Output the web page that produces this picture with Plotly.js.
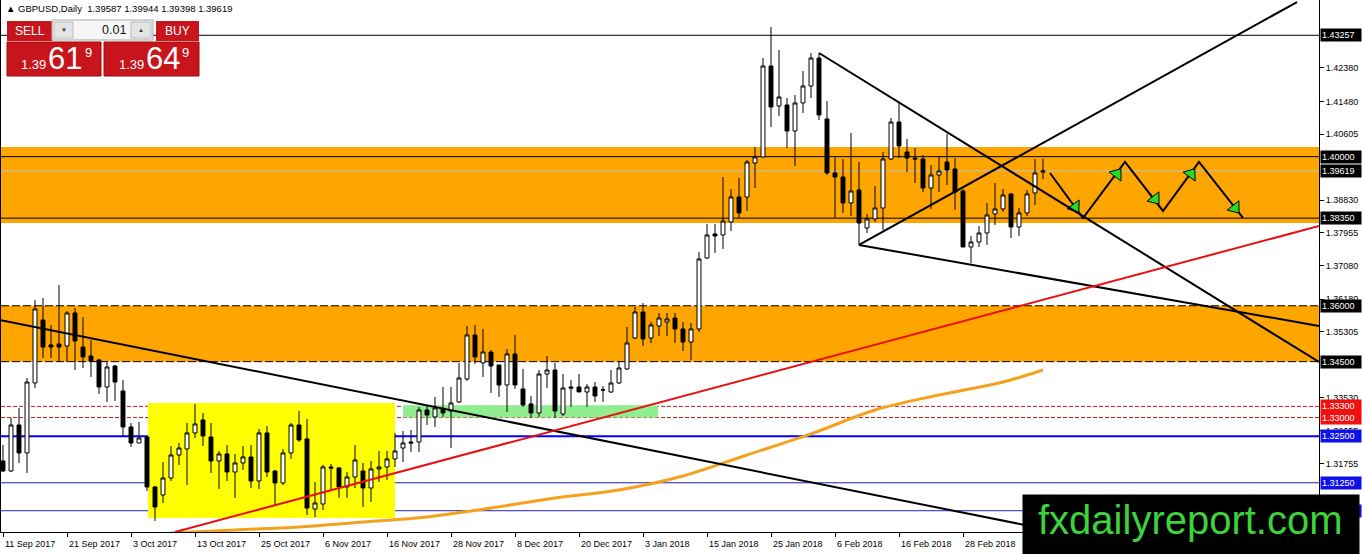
<!DOCTYPE html>
<html><head><meta charset="utf-8">
<script src="https://cdn.plot.ly/plotly-3.0.1.min.js"></script>
<style>html,body{margin:0;padding:0;background:#fff;overflow:hidden}#chart{width:1362px;height:554px}</style>
</head><body><div id="chart"></div>
<script>
// ---- data ----
const symbolName = 'GBPUSD,Daily';
const tickIndex = [0,8,16,24,32,40,48,56,64,72,80,88,96,104,112,120];
const tickLabels = ['11 Sep 2017','21 Sep 2017','3 Oct 2017','13 Oct 2017','25 Oct 2017','6 Nov 2017','16 Nov 2017','28 Nov 2017','8 Dec 2017','20 Dec 2017','3 Jan 2018','15 Jan 2018','25 Jan 2018','6 Feb 2018','16 Feb 2018','28 Feb 2018'];
const priceTicks = [1.4238,1.4148,1.40605,1.3883,1.37955,1.3708,1.3618,1.35305,1.3353,1.32655,1.31755];

const open = [1.31835,1.31566,1.32801,1.32050,1.33928,1.35618,1.34947,1.34974,1.34920,1.35806,
1.34893,1.34652,1.34545,1.33820,1.34384,1.33713,1.32747,1.32318,1.32479,1.31137,
1.30923,1.31378,1.31996,1.32157,1.32587,1.32935,1.32479,1.31835,1.32023,1.31539,
1.31782,1.31942,1.31298,1.32587,1.31566,1.31245,1.32050,1.32801,1.32426,1.30547,
1.30681,1.31674,1.31647,1.31137,1.31405,1.31566,1.31110,1.31621,1.31674,1.31889,
1.32183,1.32344,1.32344,1.33203,1.33015,1.33231,1.33176,1.33418,1.34035,1.35216,
1.34465,1.34759,1.34411,1.33874,1.34706,1.33767,1.33365,1.33123,1.34169,1.34276,
1.33096,1.33820,1.33820,1.33686,1.33820,1.33740,1.33686,1.33928,1.34304,1.35135,
1.35832,1.35135,1.35457,1.35564,1.35671,1.35377,1.35027,1.35377,1.37281,1.37926,
1.37899,1.38247,1.38918,1.38918,1.39831,1.39991,1.42433,1.41360,1.41387,1.40689,
1.41441,1.41897,1.42647,1.41012,1.39563,1.39455,1.38758,1.39106,1.38086,1.38329,
1.38623,1.39938,1.40930,1.40125,1.39964,1.39938,1.39159,1.39509,1.39857,1.39670,
1.39079,1.37577,1.37711,1.37953,1.38463,1.38597,1.38999,1.38113,1.38490,1.39026,
1.39587];
const high = [1.32264,1.32988,1.33257,1.34061,1.36155,1.36208,1.35484,1.36557,1.35859,1.35940,
1.35698,1.35081,1.34572,1.34518,1.34411,1.34008,1.32855,1.32881,1.32479,1.31164,
1.31808,1.32237,1.32318,1.32855,1.33365,1.33123,1.32855,1.32103,1.32264,1.32023,
1.32237,1.32264,1.32694,1.32774,1.31593,1.32157,1.32855,1.33176,1.32962,1.31271,
1.31728,1.31755,1.31674,1.31539,1.32264,1.31782,1.31835,1.32103,1.32103,1.32587,
1.32640,1.32667,1.33284,1.33311,1.33552,1.33820,1.33820,1.34465,1.35457,1.35484,
1.35377,1.34813,1.34411,1.34840,1.35216,1.34304,1.33579,1.34276,1.34652,1.34465,
1.34169,1.34008,1.34169,1.33901,1.33954,1.33847,1.34276,1.34518,1.35430,1.35967,
1.36075,1.35564,1.35806,1.35806,1.35806,1.35564,1.35538,1.37442,1.38194,1.38194,
1.39455,1.39133,1.39428,1.39911,1.40260,1.42647,1.43479,1.42862,1.41574,1.41655,
1.42299,1.42782,1.42782,1.41494,1.39991,1.39938,1.40636,1.39857,1.38463,1.39213,
1.40125,1.41038,1.41441,1.40475,1.40233,1.40045,1.39777,1.40018,1.40609,1.39964,
1.39133,1.37872,1.38140,1.38758,1.39294,1.39133,1.39026,1.38623,1.39106,1.39938,
1.39944];
const low = [1.31539,1.31539,1.31782,1.31513,1.33793,1.34598,1.34598,1.34491,1.34491,1.34276,
1.34330,1.34088,1.33633,1.33418,1.33445,1.32506,1.32210,1.32318,1.31030,1.30225,
1.30708,1.31298,1.31728,1.31191,1.32452,1.32237,1.31513,1.31084,1.31298,1.30842,
1.31593,1.31110,1.31084,1.31405,1.30654,1.31191,1.31889,1.32344,1.30386,1.30332,
1.30520,1.31057,1.30842,1.30842,1.31110,1.30600,1.30734,1.31271,1.31325,1.31674,
1.31808,1.32076,1.32076,1.32801,1.32747,1.33015,1.32183,1.33392,1.33981,1.34438,
1.34088,1.33660,1.33552,1.33149,1.33767,1.33284,1.32988,1.33015,1.33793,1.32988,
1.33042,1.33284,1.33686,1.33284,1.33418,1.33418,1.33660,1.33901,1.34276,1.35109,
1.34920,1.35001,1.35189,1.35189,1.35001,1.34786,1.34545,1.35296,1.37255,1.37416,
1.37524,1.38006,1.38355,1.38543,1.39159,1.39991,1.40796,1.41092,1.40233,1.39750,
1.41173,1.41574,1.40984,1.39509,1.38355,1.38490,1.38409,1.37631,1.37953,1.38247,
1.38033,1.39911,1.39964,1.39589,1.39294,1.39052,1.38597,1.39052,1.39240,1.38570,
1.37577,1.37148,1.37577,1.37631,1.38167,1.38516,1.37818,1.37872,1.38409,1.38704,
1.39398];
const close = [1.31566,1.32801,1.32050,1.33954,1.35914,1.34893,1.34893,1.34893,1.35806,1.35054,
1.34625,1.34518,1.33820,1.34357,1.33954,1.32747,1.32318,1.32452,1.31137,1.30600,
1.31378,1.31996,1.32183,1.32587,1.32828,1.32506,1.31835,1.32023,1.31539,1.31782,
1.31942,1.31298,1.32587,1.31539,1.31245,1.32050,1.32801,1.32398,1.30573,1.30708,
1.31674,1.31647,1.31137,1.31405,1.31862,1.31110,1.31621,1.31674,1.31889,1.32103,
1.32318,1.32318,1.33203,1.33069,1.33257,1.33123,1.33392,1.34061,1.35216,1.34625,
1.34759,1.34384,1.33874,1.34706,1.33874,1.33338,1.33123,1.34169,1.34276,1.33176,
1.33793,1.33793,1.33686,1.33820,1.33579,1.33745,1.33928,1.34330,1.35001,1.35832,
1.35109,1.35484,1.35671,1.35645,1.35377,1.35027,1.35377,1.37255,1.37899,1.37872,
1.38274,1.38918,1.38490,1.39857,1.39991,1.42433,1.41333,1.41601,1.40689,1.41441,
1.41897,1.42647,1.41119,1.39563,1.39455,1.38758,1.39079,1.38221,1.38329,1.38623,
1.39938,1.40930,1.40287,1.39964,1.39938,1.39159,1.39509,1.39616,1.39643,1.39052,
1.37577,1.37711,1.37953,1.38436,1.38597,1.38972,1.38113,1.38490,1.38999,1.39563,
1.39619];

const maIndex = [21,29,37,45,53,61,69,77,85,93,101,109,117,125,130];
const maValue = [1.29903,1.29983,1.30064,1.30198,1.30332,1.30573,1.30842,1.31057,1.31432,1.31996,1.32560,1.33203,1.33606,1.33954,1.34276];

const zoneHigh = [1.40260, 1.36000];
const zoneLow  = [1.38220, 1.34500];
const yellowBox = {x:[18.125, 49], y:[1.30305, 1.33391]};
const greenBox  = {x:[50, 81.9], y:[1.33000, 1.33330]};

const levelSolid  = [1.43257, 1.40000, 1.38350];
const levelDashed = [1.36000, 1.34500];
const levelRed    = [1.33300, 1.33000];
const levelBlueMain = [1.32500];
const levelBlue   = [1.31250, 1.30500];
const bidPrice = 1.39619;
const askPrice = 1.39649;

const trendX = [[-0.375,132.1],[107,161.75],[107,164.5],[102,164.5]];
const trendY = [[1.35618,1.29929],[1.37631,1.44150],[1.37631,1.35457],[1.42782,1.34490]];
const redTrendX = [21.5, 164.5];
const redTrendY = [1.29929, 1.38140];

const zigX = [130.875,135,140.25,145,149.5,155];
const zigY = [1.39562,1.38355,1.39857,1.38543,1.39857,1.38355];
const arrowX = [134,139.25,144,148.5,154];
const arrowY = [1.38650,1.39535,1.38865,1.39535,1.38623];
const arrowAngle = [144,37,142,36,142];

// ---- layout helpers ----
const FONT = 'Liberation Sans, Arial, sans-serif';
const W = 1362, H = 554, ML = 1, MR = 43, MT = 0, MB = 22;
const PW = W - ML - MR, PH = H - MT - MB;
const fx = x => (x - ML) / PW;
const fy = y => (MT + PH - y) / PH;

const idx = open.map((_, i) => i);

const shapes = [];
zoneHigh.forEach((h, i) => shapes.push({type:'rect', xref:'paper', yref:'y', x0:0, x1:1, y0:zoneLow[i], y1:h, fillcolor:'#FFA500', line:{width:0}, layer:'below'}));
shapes.push({type:'rect', xref:'x', yref:'y', x0:yellowBox.x[0], x1:yellowBox.x[1], y0:yellowBox.y[0], y1:yellowBox.y[1], fillcolor:'#FFFF00', line:{width:0}, layer:'below'});
shapes.push({type:'rect', xref:'x', yref:'y', x0:greenBox.x[0], x1:greenBox.x[1], y0:greenBox.y[0], y1:greenBox.y[1], fillcolor:'#90EE90', line:{width:0}, layer:'below'});
const hline = (v, color, width, dash) => shapes.push({type:'line', xref:'paper', yref:'y', x0:0, x1:1, y0:v, y1:v, line:{color, width, dash}, layer:'below'});
hline(bidPrice, '#C0C0C0', 1, 'solid');
levelSolid.forEach(v => hline(v, '#000000', 1, 'solid'));
levelDashed.forEach(v => hline(v, '#000000', 1, '8px,3px'));
levelRed.forEach(v => hline(v, '#D01818', 1, '4px,2px'));
levelBlueMain.forEach(v => hline(v, '#0000FF', 2, 'solid'));
levelBlue.forEach(v => hline(v, '#2020B0', 1, 'solid'));
trendX.forEach((xs, i) => shapes.push({type:'line', xref:'x', yref:'y', x0:xs[0], x1:xs[1], y0:trendY[i][0], y1:trendY[i][1], line:{color:'#000', width:2}, layer:'above'}));
shapes.push({type:'line', xref:'x', yref:'y', x0:redTrendX[0], x1:redTrendX[1], y0:redTrendY[0], y1:redTrendY[1], line:{color:'#E81010', width:2}, layer:'above'});

// trade panel shapes (pixel boxes)
const RED = '#C8151C';
const box = (x0, y0, x1, y1, fill, lc) => shapes.push({type:'rect', xref:'paper', yref:'paper', x0:fx(x0), x1:fx(x1), y0:fy(y1), y1:fy(y0), fillcolor:fill, line:{color:lc||fill, width:lc?1:0}, layer:'above'});
box(7, 21, 52, 41, RED);
box(52, 20, 153, 40, '#F6F6F6', '#A8A8A8');
box(54, 22, 73, 38, '#E4E4E4', '#BBBBBB');
box(131, 22, 151, 38, '#E4E4E4', '#BBBBBB');
box(156, 21, 199, 41, RED);
box(7, 42, 101, 76, RED, '#A00A10');
box(104, 42, 199, 76, RED, '#A00A10');

const ann = [];
tickIndex.forEach((t, i) => ann.push({xref:'x', yref:'paper', x:t, y:0, xanchor:'left', yanchor:'top', xshift:0, yshift:-5, text:tickLabels[i], showarrow:false, font:{family:FONT, size:9, color:'#000'}}));

const levelLabel = (v, bg) => ann.push({xref:'paper', yref:'y', x:1, y:v, xanchor:'left', yanchor:'middle', xshift:1, text:v.toFixed(5), showarrow:false, bgcolor:bg, borderpad:1, width:38, align:'left', font:{family:FONT, size:9, color:'#FFFFFF'}});
levelSolid.forEach(v => levelLabel(v, '#000000'));
levelLabel(bidPrice, '#000000');
levelDashed.forEach(v => levelLabel(v, '#000000'));
levelRed.forEach(v => levelLabel(v, '#F01010'));
levelBlueMain.forEach(v => levelLabel(v, '#1010E8'));
levelBlue.forEach(v => levelLabel(v, '#1010E8'));

const last = open.length - 1;
ann.push({xref:'paper', yref:'paper', x:fx(4), y:fy(8), xanchor:'left', yanchor:'middle', showarrow:false,
  text:'\u25B2 ' + symbolName + '  ' + [open[last], high[last], low[last], close[last]].map(v => v.toFixed(5)).join(' '),
  font:{family:FONT, size:9.5, color:'#000'}});

const ptext = (x, y, text, size, anchor, color) => ann.push({xref:'paper', yref:'paper', x:fx(x), y:fy(y), xanchor:anchor, yanchor:'middle', showarrow:false, text, font:{family:FONT, size, color:color||'#FFFFFF'}});
ptext(29.5, 31, 'SELL', 12, 'center');
ptext(177.5, 31, 'BUY', 12, 'center');
ptext(63.5, 30, '\u25BC', 6, 'center', '#333');
ptext(141, 30, '\u25B2', 6, 'center', '#333');
ptext(128, 30, '0.01', 12.5, 'right', '#111');
const sellStr = bidPrice.toFixed(5), buyStr = askPrice.toFixed(5);
ptext(19, 65, sellStr.slice(0,4), 13, 'left');
ptext(46, 58, sellStr.slice(4,6), 31, 'left');
ptext(83, 52, sellStr.slice(6), 13, 'left');
ptext(117, 65, buyStr.slice(0,4), 13, 'left');
ptext(144, 58, buyStr.slice(4,6), 31, 'left');
ptext(180, 52, buyStr.slice(6), 13, 'left');

// watermark
ann.push({xref:'paper', yref:'paper', x:fx(1022), y:fy(494), xanchor:'left', yanchor:'top', showarrow:false, text:' ', bgcolor:'#000000', width:336, height:60, borderpad:0, font:{size:10}});
ann.push({xref:'paper', yref:'paper', x:fx(1190), y:fy(520), xanchor:'center', yanchor:'middle', showarrow:false, text:'fxdailyreport.com', font:{family:FONT, size:40, color:'#3CD33C'}});

const traces = [
  {type:'candlestick', x:idx, open, high, low, close,
   increasing:{line:{color:'#000', width:1}, fillcolor:'#FFFFFF'},
   decreasing:{line:{color:'#000', width:1}, fillcolor:'#000000'},
   whiskerwidth:0, hoverinfo:'skip', showlegend:false},
  {type:'scatter', mode:'lines', x:maIndex, y:maValue, line:{color:'#F4A21E', width:3, shape:'spline'}, hoverinfo:'skip', showlegend:false},
  {type:'scatter', mode:'lines', x:zigX, y:zigY, line:{color:'#000', width:2}, hoverinfo:'skip', showlegend:false},
  {type:'scatter', mode:'markers', x:arrowX, y:arrowY, marker:{symbol:'triangle-up', size:13, color:'#22DD22', angle:arrowAngle, line:{color:'#000', width:1}}, hoverinfo:'skip', showlegend:false, cliponaxis:false}
];

const layout = {
  width:W, height:H, margin:{l:ML, r:MR, t:MT, b:MB, pad:0},
  paper_bgcolor:'#FFFFFF', plot_bgcolor:'#FFFFFF', showlegend:false, dragmode:false,
  font:{family:FONT, size:9, color:'#000'},
  xaxis:{range:[-0.25, 164.5], showgrid:false, zeroline:false, showline:true, linecolor:'#000', linewidth:1,
    ticks:'outside', ticklen:4, tickcolor:'#000', tickvals:tickIndex, showticklabels:false, rangeslider:{visible:false}, fixedrange:true},
  yaxis:{side:'right', range:[1.29929, 1.44204], showgrid:false, zeroline:false, showline:true, mirror:true, linecolor:'#000', linewidth:1,
    ticks:'outside', ticklen:4, tickcolor:'#000', tickvals:priceTicks, ticktext:priceTicks.map(v => v.toFixed(5)),
    tickfont:{family:FONT, size:9, color:'#000'}, fixedrange:true},
  shapes, annotations:ann
};

Plotly.newPlot('chart', traces, layout, {staticPlot:true, displayModeBar:false});
</script>
</body></html>
